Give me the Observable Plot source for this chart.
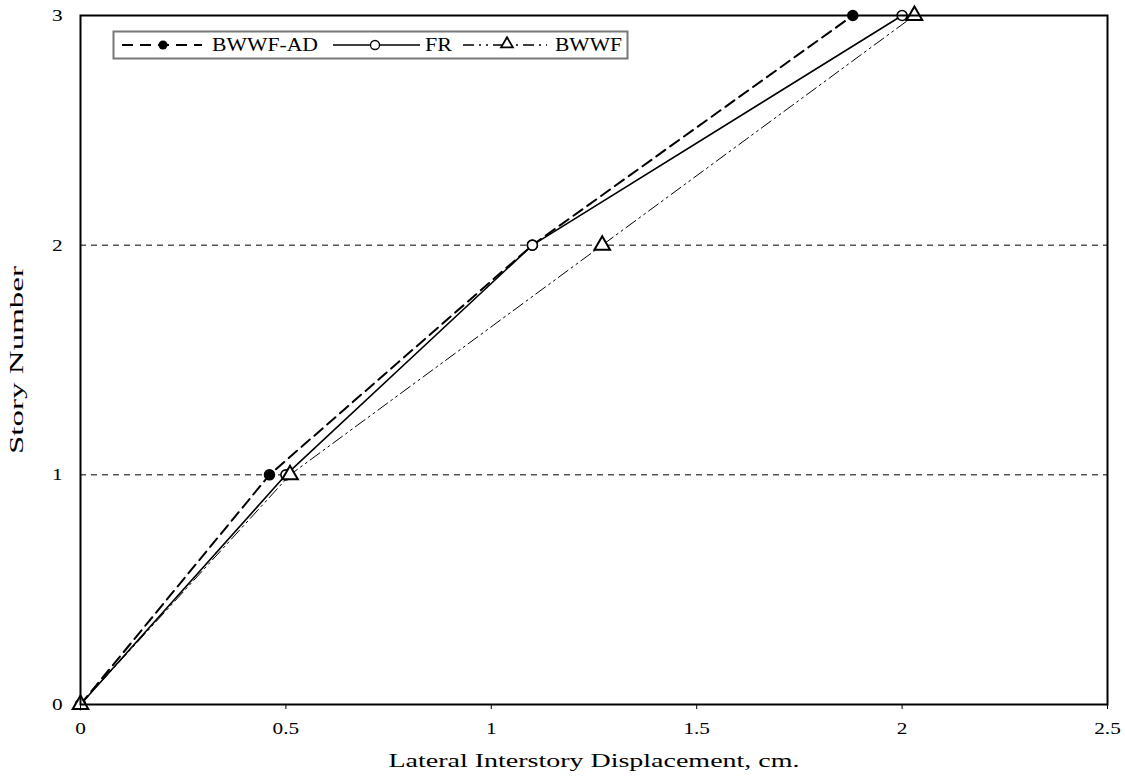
<!DOCTYPE html>
<html>
<head>
<meta charset="utf-8">
<script src="https://cdn.jsdelivr.net/npm/d3@7"></script>
<script src="https://cdn.jsdelivr.net/npm/@observablehq/plot@0.6"></script>
<style>
  body { margin: 0; background: #fff; }
  #wrap { position: relative; width: 1125px; height: 777px; }
  #legend { position: absolute; left: 112px; top: 30px; }
</style>
</head>
<body>
<div id="wrap"></div>
<script>
const stories = [0, 1, 2, 3];
const bwwfAD = [0, 0.46, 1.10, 1.88];
const fr = [0, 0.50, 1.10, 2.00];
const bwwf = [0, 0.51, 1.27, 2.03];
const xTicks = [0, 0.5, 1, 1.5, 2, 2.5];
const yTicks = [0, 1, 2, 3];
const seriesNames = ["BWWF-AD", "FR", "BWWF"];
const xLabel = "Lateral Interstory Displacement, cm.";
const yLabel = "Story Number";

const mk = (arr) => arr.map((x, i) => ({x, y: stories[i]}));
const dAD = mk(bwwfAD), dFR = mk(fr), dBW = mk(bwwf);

const font = "Liberation Serif, Times New Roman, serif";

const chart = Plot.plot({
  width: 1125,
  height: 777,
  marginLeft: 80,
  marginRight: 18,
  marginTop: 15,
  marginBottom: 73,
  style: {fontFamily: font, fontSize: "17px", color: "#000", background: "#fff"},
  x: {domain: [0, 2.5], label: null},
  y: {domain: [0, 3], label: null},
  marks: [
    Plot.ruleY([1, 2], {stroke: "#000", strokeWidth: 1, strokeDasharray: "6,5"}),
    Plot.line(dBW, {x: "x", y: "y", stroke: "#000", strokeWidth: 1, strokeDasharray: "12,4,2,4,2,4"}),
    Plot.line(dAD, {x: "x", y: "y", stroke: "#000", strokeWidth: 2, strokeDasharray: "11,6"}),
    Plot.line(dFR, {x: "x", y: "y", stroke: "#000", strokeWidth: 1.6}),
    Plot.dot(dAD, {x: "x", y: "y", r: 5, fill: "#000", stroke: "#000"}),
    Plot.dot(dFR, {x: "x", y: "y", r: 5, fill: "#fff", stroke: "#000", strokeWidth: 1.6}),
    Plot.dot(dBW, {x: "x", y: "y", r: 5.8, symbol: "triangle", fill: "#fff", stroke: "#000", strokeWidth: 2}),
    Plot.axisX({ticks: xTicks, tickFormat: d => String(d), tickSize: 5, tickPadding: 12, fontSize: 17, label: null, className: "tk"}),
    Plot.axisY({ticks: yTicks, tickFormat: d => String(d), tickSize: 0, tickPadding: 18, fontSize: 17, label: null, className: "tk"}),
    Plot.frame({stroke: "#000", strokeWidth: 2}),
    Plot.text([xLabel], {frameAnchor: "bottom", dy: 62, fontSize: 19, fill: "#000", className: "xl"}),
    Plot.text([yLabel], {frameAnchor: "left", dx: -63, rotate: -90, fontSize: 18, fill: "#000", className: "yl"})
  ]
});
document.getElementById("wrap").appendChild(chart);

function stretch(sel, factor, target, recenter) {
  d3.select(chart).selectAll(sel).each(function() {
    const w = this.getComputedTextLength();
    const t = target != null ? target : w * factor;
    if (recenter) {
      this.setAttribute("text-anchor", "start");
      this.style.textAnchor = "start";
      this.setAttribute("x", -t / 2);
    }
    this.setAttribute("textLength", t);
    this.setAttribute("lengthAdjust", "spacingAndGlyphs");
  });
}
stretch(".tk text", 1.25);
stretch(".xl text", null, 411);
stretch(".yl text", null, 188, true);

// Legend inset
const lg = d3.select("#wrap").append("svg")
  .attr("id", "legend").attr("width", 520).attr("height", 31)
  .style("font-family", font);
lg.append("rect").attr("x", 1.5).attr("y", 1.5).attr("width", 514).attr("height", 27)
  .attr("fill", "#fff").attr("stroke", "#777").attr("stroke-width", 2);
const items = [
  {name: seriesNames[0], x0: 10, x1: 90, mx: 51, tx: 100, tw: 106, dash: "11,7", sw: 2, marker: "fill"},
  {name: seriesNames[1], x0: 221, x1: 308, mx: 263, tx: 313, tw: 27, dash: null, sw: 1.3, marker: "open"},
  {name: seriesNames[2], x0: 351, x1: 435, mx: 395, tx: 443, tw: 67, dash: "11,5,2,5,2,5", sw: 1.6, marker: "tri"}
];
items.forEach(it => {
  const cy = 15;
  lg.append("line").attr("x1", it.x0).attr("x2", it.x1).attr("y1", cy).attr("y2", cy)
    .attr("stroke", "#000").attr("stroke-width", it.sw).attr("stroke-dasharray", it.dash);
  if (it.marker === "fill") lg.append("circle").attr("cx", it.mx).attr("cy", cy).attr("r", 4.5).attr("fill", "#000");
  else if (it.marker === "open") lg.append("circle").attr("cx", it.mx).attr("cy", cy).attr("r", 4.5).attr("fill", "#fff").attr("stroke", "#000").attr("stroke-width", 1.3);
  else lg.append("path").attr("d", d3.symbol(d3.symbolTriangle, 60)()).attr("transform", `translate(${it.mx},${cy - 1})`)
    .attr("fill", "#fff").attr("stroke", "#000").attr("stroke-width", 1.8);
  lg.append("text").attr("x", it.tx).attr("y", cy + 6).attr("font-size", 18)
    .attr("textLength", it.tw).attr("lengthAdjust", "spacingAndGlyphs").text(it.name);
});
</script>
</body>
</html>
